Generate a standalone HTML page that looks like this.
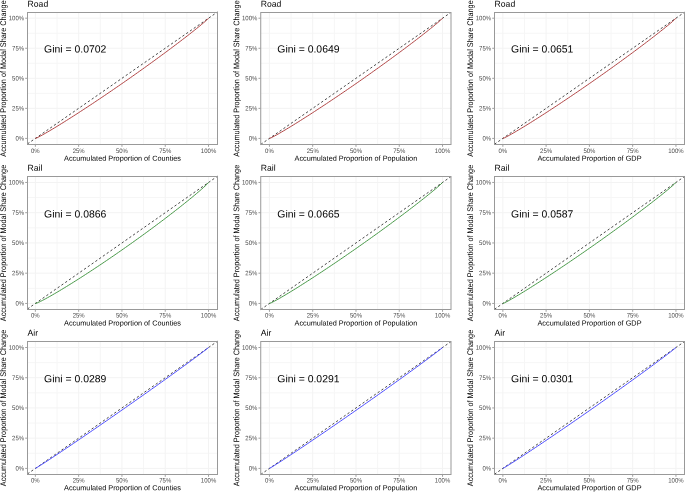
<!DOCTYPE html>
<html><head><meta charset="utf-8"><style>
html,body{margin:0;padding:0;background:#fff;overflow:hidden;}
svg{display:block;font-family:"Liberation Sans", sans-serif;will-change:transform;text-rendering:geometricPrecision;}
</style></head><body>
<svg width="685" height="492" viewBox="0 0 685 492" stroke-width="1">
<rect width="685" height="492" fill="#fff"/>
<line x1="57.02" y1="12.5" x2="57.02" y2="144.5" stroke="#f6f6f6"/>
<line x1="27.5" y1="123.38" x2="217.5" y2="123.38" stroke="#f6f6f6"/>
<line x1="100.31" y1="12.5" x2="100.31" y2="144.5" stroke="#f6f6f6"/>
<line x1="27.5" y1="93.33" x2="217.5" y2="93.33" stroke="#f6f6f6"/>
<line x1="143.6" y1="12.5" x2="143.6" y2="144.5" stroke="#f6f6f6"/>
<line x1="27.5" y1="63.28" x2="217.5" y2="63.28" stroke="#f6f6f6"/>
<line x1="186.89" y1="12.5" x2="186.89" y2="144.5" stroke="#f6f6f6"/>
<line x1="27.5" y1="33.23" x2="217.5" y2="33.23" stroke="#f6f6f6"/>
<line x1="35.37" y1="12.5" x2="35.37" y2="144.5" stroke="#f3f3f3"/>
<line x1="27.5" y1="138.4" x2="217.5" y2="138.4" stroke="#f3f3f3"/>
<line x1="78.66" y1="12.5" x2="78.66" y2="144.5" stroke="#f3f3f3"/>
<line x1="27.5" y1="108.35" x2="217.5" y2="108.35" stroke="#f3f3f3"/>
<line x1="121.95" y1="12.5" x2="121.95" y2="144.5" stroke="#f3f3f3"/>
<line x1="27.5" y1="78.3" x2="217.5" y2="78.3" stroke="#f3f3f3"/>
<line x1="165.25" y1="12.5" x2="165.25" y2="144.5" stroke="#f3f3f3"/>
<line x1="27.5" y1="48.25" x2="217.5" y2="48.25" stroke="#f3f3f3"/>
<line x1="208.54" y1="12.5" x2="208.54" y2="144.5" stroke="#f3f3f3"/>
<line x1="27.5" y1="18.2" x2="217.5" y2="18.2" stroke="#f3f3f3"/>
<line x1="27.5" y1="143.86" x2="217.5" y2="11.98" stroke="#363636" stroke-width="0.9" stroke-dasharray="2.3 2.3"/>
<polyline points="35.37,138.4 37.1,137.75 38.83,136.89 40.57,135.97 42.3,135.02 44.03,134.05 45.76,133.06 47.49,132.05 49.22,131.04 50.96,130.01 52.69,128.97 54.42,127.93 56.15,126.88 57.88,125.82 59.61,124.75 61.35,123.68 63.08,122.6 64.81,121.52 66.54,120.43 68.27,119.34 70,118.24 71.74,117.14 73.47,116.03 75.2,114.92 76.93,113.8 78.66,112.68 80.39,111.56 82.13,110.43 83.86,109.3 85.59,108.17 87.32,107.03 89.05,105.89 90.78,104.75 92.52,103.6 94.25,102.45 95.98,101.29 97.71,100.13 99.44,98.97 101.17,97.81 102.91,96.64 104.64,95.47 106.37,94.3 108.1,93.12 109.83,91.94 111.56,90.76 113.3,89.57 115.03,88.38 116.76,87.19 118.49,86 120.22,84.8 121.95,83.6 123.69,82.4 125.42,81.19 127.15,79.98 128.88,78.77 130.61,77.55 132.35,76.33 134.08,75.11 135.81,73.89 137.54,72.66 139.27,71.43 141,70.2 142.74,68.96 144.47,67.72 146.2,66.48 147.93,65.23 149.66,63.98 151.39,62.73 153.13,61.47 154.86,60.21 156.59,58.95 158.32,57.68 160.05,56.41 161.78,55.14 163.52,53.86 165.25,52.58 166.98,51.3 168.71,50.01 170.44,48.72 172.17,47.42 173.91,46.12 175.64,44.81 177.37,43.5 179.1,42.19 180.83,40.86 182.56,39.54 184.3,38.21 186.03,36.87 187.76,35.52 189.49,34.17 191.22,32.81 192.95,31.44 194.69,30.07 196.42,28.68 198.15,27.28 199.88,25.87 201.61,24.44 203.34,22.98 205.08,21.5 206.81,19.95 208.54,18.2" fill="none" stroke="#ad3c3c" stroke-width="0.95"/>
<rect x="27.5" y="12.5" width="190" height="132" fill="none" stroke="#999999"/>
<line x1="25.2" y1="138.4" x2="27.5" y2="138.4" stroke="#a0a0a0"/>
<line x1="35.37" y1="144.5" x2="35.37" y2="146.8" stroke="#a0a0a0"/>
<text transform="translate(24.1 140.55) scale(1 1.08)" rotate="0.3" font-size="6.0" fill="#4a4a4a" text-anchor="end">0%</text>
<text transform="translate(35.37 153) scale(1 1.08)" rotate="0.3" font-size="6.0" fill="#4a4a4a" text-anchor="middle">0%</text>
<line x1="25.2" y1="108.35" x2="27.5" y2="108.35" stroke="#a0a0a0"/>
<line x1="78.66" y1="144.5" x2="78.66" y2="146.8" stroke="#a0a0a0"/>
<text transform="translate(24.1 110.5) scale(1 1.08)" rotate="0.3" font-size="6.0" fill="#4a4a4a" text-anchor="end">25%</text>
<text transform="translate(78.66 153) scale(1 1.08)" rotate="0.3" font-size="6.0" fill="#4a4a4a" text-anchor="middle">25%</text>
<line x1="25.2" y1="78.3" x2="27.5" y2="78.3" stroke="#a0a0a0"/>
<line x1="121.95" y1="144.5" x2="121.95" y2="146.8" stroke="#a0a0a0"/>
<text transform="translate(24.1 80.45) scale(1 1.08)" rotate="0.3" font-size="6.0" fill="#4a4a4a" text-anchor="end">50%</text>
<text transform="translate(121.95 153) scale(1 1.08)" rotate="0.3" font-size="6.0" fill="#4a4a4a" text-anchor="middle">50%</text>
<line x1="25.2" y1="48.25" x2="27.5" y2="48.25" stroke="#a0a0a0"/>
<line x1="165.25" y1="144.5" x2="165.25" y2="146.8" stroke="#a0a0a0"/>
<text transform="translate(24.1 50.4) scale(1 1.08)" rotate="0.3" font-size="6.0" fill="#4a4a4a" text-anchor="end">75%</text>
<text transform="translate(165.25 153) scale(1 1.08)" rotate="0.3" font-size="6.0" fill="#4a4a4a" text-anchor="middle">75%</text>
<line x1="25.2" y1="18.2" x2="27.5" y2="18.2" stroke="#a0a0a0"/>
<line x1="208.54" y1="144.5" x2="208.54" y2="146.8" stroke="#a0a0a0"/>
<text transform="translate(24.1 20.35) scale(1 1.08)" rotate="0.3" font-size="6.0" fill="#4a4a4a" text-anchor="end">100%</text>
<text transform="translate(208.54 153) scale(1 1.08)" rotate="0.3" font-size="6.0" fill="#4a4a4a" text-anchor="middle">100%</text>
<text transform="translate(27.6 6.7) scale(1 1.0)" rotate="0.3" font-size="8.6" fill="#000">Road</text>
<text transform="translate(122.5 160.8) scale(1 1.0)" rotate="0.3" font-size="7.3" fill="#000" text-anchor="middle">Accumulated Proportion of Counties</text>
<text transform="translate(6.1 78.5) rotate(-90) scale(1 1.126)" rotate="0.3" font-size="7.26" fill="#000" text-anchor="middle">Accumulated Proportion of Modal Share Change</text>
<text transform="translate(44.1 52.45) scale(1 1.0)" rotate="0.3" font-size="10.4" fill="#000">Gini = 0.0702</text>
<line x1="291.07" y1="12.5" x2="291.07" y2="144.5" stroke="#f6f6f6"/>
<line x1="260.74" y1="123.38" x2="451" y2="123.38" stroke="#f6f6f6"/>
<line x1="334.35" y1="12.5" x2="334.35" y2="144.5" stroke="#f6f6f6"/>
<line x1="260.74" y1="93.33" x2="451" y2="93.33" stroke="#f6f6f6"/>
<line x1="377.62" y1="12.5" x2="377.62" y2="144.5" stroke="#f6f6f6"/>
<line x1="260.74" y1="63.28" x2="451" y2="63.28" stroke="#f6f6f6"/>
<line x1="420.9" y1="12.5" x2="420.9" y2="144.5" stroke="#f6f6f6"/>
<line x1="260.74" y1="33.23" x2="451" y2="33.23" stroke="#f6f6f6"/>
<line x1="269.43" y1="12.5" x2="269.43" y2="144.5" stroke="#f3f3f3"/>
<line x1="260.74" y1="138.4" x2="451" y2="138.4" stroke="#f3f3f3"/>
<line x1="312.71" y1="12.5" x2="312.71" y2="144.5" stroke="#f3f3f3"/>
<line x1="260.74" y1="108.35" x2="451" y2="108.35" stroke="#f3f3f3"/>
<line x1="355.99" y1="12.5" x2="355.99" y2="144.5" stroke="#f3f3f3"/>
<line x1="260.74" y1="78.3" x2="451" y2="78.3" stroke="#f3f3f3"/>
<line x1="399.26" y1="12.5" x2="399.26" y2="144.5" stroke="#f3f3f3"/>
<line x1="260.74" y1="48.25" x2="451" y2="48.25" stroke="#f3f3f3"/>
<line x1="442.54" y1="12.5" x2="442.54" y2="144.5" stroke="#f3f3f3"/>
<line x1="260.74" y1="18.2" x2="451" y2="18.2" stroke="#f3f3f3"/>
<line x1="260.74" y1="144.43" x2="451" y2="12.33" stroke="#363636" stroke-width="0.9" stroke-dasharray="2.3 2.3"/>
<polyline points="269.43,138.4 271.16,137.75 272.89,136.89 274.62,135.97 276.35,135.02 278.09,134.05 279.82,133.06 281.55,132.05 283.28,131.04 285.01,130.01 286.74,128.97 288.47,127.93 290.2,126.88 291.93,125.82 293.67,124.75 295.4,123.68 297.13,122.6 298.86,121.52 300.59,120.43 302.32,119.34 304.05,118.24 305.78,117.14 307.51,116.03 309.25,114.92 310.98,113.8 312.71,112.68 314.44,111.56 316.17,110.43 317.9,109.3 319.63,108.17 321.36,107.03 323.09,105.89 324.83,104.75 326.56,103.6 328.29,102.45 330.02,101.29 331.75,100.13 333.48,98.97 335.21,97.81 336.94,96.64 338.67,95.47 340.41,94.3 342.14,93.12 343.87,91.94 345.6,90.76 347.33,89.57 349.06,88.38 350.79,87.19 352.52,86 354.25,84.8 355.99,83.6 357.72,82.4 359.45,81.19 361.18,79.98 362.91,78.77 364.64,77.55 366.37,76.33 368.1,75.11 369.83,73.89 371.56,72.66 373.3,71.43 375.03,70.2 376.76,68.96 378.49,67.72 380.22,66.48 381.95,65.23 383.68,63.98 385.41,62.73 387.14,61.47 388.88,60.21 390.61,58.95 392.34,57.68 394.07,56.41 395.8,55.14 397.53,53.86 399.26,52.58 400.99,51.3 402.72,50.01 404.46,48.72 406.19,47.42 407.92,46.12 409.65,44.81 411.38,43.5 413.11,42.19 414.84,40.86 416.57,39.54 418.3,38.21 420.04,36.87 421.77,35.52 423.5,34.17 425.23,32.81 426.96,31.44 428.69,30.07 430.42,28.68 432.15,27.28 433.88,25.87 435.62,24.44 437.35,22.98 439.08,21.5 440.81,19.95 442.54,18.2" fill="none" stroke="#ad3c3c" stroke-width="0.95"/>
<rect x="260.74" y="12.5" width="190.26" height="132" fill="none" stroke="#999999"/>
<line x1="258.44" y1="138.4" x2="260.74" y2="138.4" stroke="#a0a0a0"/>
<line x1="269.43" y1="144.5" x2="269.43" y2="146.8" stroke="#a0a0a0"/>
<text transform="translate(257.34 140.55) scale(1 1.08)" rotate="0.3" font-size="6.0" fill="#4a4a4a" text-anchor="end">0%</text>
<text transform="translate(269.43 153) scale(1 1.08)" rotate="0.3" font-size="6.0" fill="#4a4a4a" text-anchor="middle">0%</text>
<line x1="258.44" y1="108.35" x2="260.74" y2="108.35" stroke="#a0a0a0"/>
<line x1="312.71" y1="144.5" x2="312.71" y2="146.8" stroke="#a0a0a0"/>
<text transform="translate(257.34 110.5) scale(1 1.08)" rotate="0.3" font-size="6.0" fill="#4a4a4a" text-anchor="end">25%</text>
<text transform="translate(312.71 153) scale(1 1.08)" rotate="0.3" font-size="6.0" fill="#4a4a4a" text-anchor="middle">25%</text>
<line x1="258.44" y1="78.3" x2="260.74" y2="78.3" stroke="#a0a0a0"/>
<line x1="355.99" y1="144.5" x2="355.99" y2="146.8" stroke="#a0a0a0"/>
<text transform="translate(257.34 80.45) scale(1 1.08)" rotate="0.3" font-size="6.0" fill="#4a4a4a" text-anchor="end">50%</text>
<text transform="translate(355.99 153) scale(1 1.08)" rotate="0.3" font-size="6.0" fill="#4a4a4a" text-anchor="middle">50%</text>
<line x1="258.44" y1="48.25" x2="260.74" y2="48.25" stroke="#a0a0a0"/>
<line x1="399.26" y1="144.5" x2="399.26" y2="146.8" stroke="#a0a0a0"/>
<text transform="translate(257.34 50.4) scale(1 1.08)" rotate="0.3" font-size="6.0" fill="#4a4a4a" text-anchor="end">75%</text>
<text transform="translate(399.26 153) scale(1 1.08)" rotate="0.3" font-size="6.0" fill="#4a4a4a" text-anchor="middle">75%</text>
<line x1="258.44" y1="18.2" x2="260.74" y2="18.2" stroke="#a0a0a0"/>
<line x1="442.54" y1="144.5" x2="442.54" y2="146.8" stroke="#a0a0a0"/>
<text transform="translate(257.34 20.35) scale(1 1.08)" rotate="0.3" font-size="6.0" fill="#4a4a4a" text-anchor="end">100%</text>
<text transform="translate(442.54 153) scale(1 1.08)" rotate="0.3" font-size="6.0" fill="#4a4a4a" text-anchor="middle">100%</text>
<text transform="translate(260.84 6.7) scale(1 1.0)" rotate="0.3" font-size="8.6" fill="#000">Road</text>
<text transform="translate(355.87 160.8) scale(1 1.0)" rotate="0.3" font-size="7.3" fill="#000" text-anchor="middle">Accumulated Proportion of Population</text>
<text transform="translate(239.34 78.5) rotate(-90) scale(1 1.126)" rotate="0.3" font-size="7.26" fill="#000" text-anchor="middle">Accumulated Proportion of Modal Share Change</text>
<text transform="translate(277.34 52.45) scale(1 1.0)" rotate="0.3" font-size="10.4" fill="#000">Gini = 0.0649</text>
<line x1="524.49" y1="12.5" x2="524.49" y2="144.5" stroke="#f6f6f6"/>
<line x1="494.5" y1="123.38" x2="684.5" y2="123.38" stroke="#f6f6f6"/>
<line x1="567.76" y1="12.5" x2="567.76" y2="144.5" stroke="#f6f6f6"/>
<line x1="494.5" y1="93.33" x2="684.5" y2="93.33" stroke="#f6f6f6"/>
<line x1="611.04" y1="12.5" x2="611.04" y2="144.5" stroke="#f6f6f6"/>
<line x1="494.5" y1="63.28" x2="684.5" y2="63.28" stroke="#f6f6f6"/>
<line x1="654.31" y1="12.5" x2="654.31" y2="144.5" stroke="#f6f6f6"/>
<line x1="494.5" y1="33.23" x2="684.5" y2="33.23" stroke="#f6f6f6"/>
<line x1="502.85" y1="12.5" x2="502.85" y2="144.5" stroke="#f3f3f3"/>
<line x1="494.5" y1="138.4" x2="684.5" y2="138.4" stroke="#f3f3f3"/>
<line x1="546.12" y1="12.5" x2="546.12" y2="144.5" stroke="#f3f3f3"/>
<line x1="494.5" y1="108.35" x2="684.5" y2="108.35" stroke="#f3f3f3"/>
<line x1="589.4" y1="12.5" x2="589.4" y2="144.5" stroke="#f3f3f3"/>
<line x1="494.5" y1="78.3" x2="684.5" y2="78.3" stroke="#f3f3f3"/>
<line x1="632.68" y1="12.5" x2="632.68" y2="144.5" stroke="#f3f3f3"/>
<line x1="494.5" y1="48.25" x2="684.5" y2="48.25" stroke="#f3f3f3"/>
<line x1="675.95" y1="12.5" x2="675.95" y2="144.5" stroke="#f3f3f3"/>
<line x1="494.5" y1="18.2" x2="684.5" y2="18.2" stroke="#f3f3f3"/>
<line x1="494.5" y1="144.2" x2="684.5" y2="12.26" stroke="#363636" stroke-width="0.9" stroke-dasharray="2.3 2.3"/>
<polyline points="502.85,138.4 504.58,137.75 506.31,136.89 508.04,135.97 509.77,135.02 511.5,134.05 513.24,133.06 514.97,132.05 516.7,131.04 518.43,130.01 520.16,128.97 521.89,127.93 523.62,126.88 525.35,125.82 527.08,124.75 528.82,123.68 530.55,122.6 532.28,121.52 534.01,120.43 535.74,119.34 537.47,118.24 539.2,117.14 540.93,116.03 542.66,114.92 544.39,113.8 546.12,112.68 547.86,111.56 549.59,110.43 551.32,109.3 553.05,108.17 554.78,107.03 556.51,105.89 558.24,104.75 559.97,103.6 561.7,102.45 563.44,101.29 565.17,100.13 566.9,98.97 568.63,97.81 570.36,96.64 572.09,95.47 573.82,94.3 575.55,93.12 577.28,91.94 579.01,90.76 580.75,89.57 582.48,88.38 584.21,87.19 585.94,86 587.67,84.8 589.4,83.6 591.13,82.4 592.86,81.19 594.59,79.98 596.32,78.77 598.06,77.55 599.79,76.33 601.52,75.11 603.25,73.89 604.98,72.66 606.71,71.43 608.44,70.2 610.17,68.96 611.9,67.72 613.63,66.48 615.37,65.23 617.1,63.98 618.83,62.73 620.56,61.47 622.29,60.21 624.02,58.95 625.75,57.68 627.48,56.41 629.21,55.14 630.94,53.86 632.68,52.58 634.41,51.3 636.14,50.01 637.87,48.72 639.6,47.42 641.33,46.12 643.06,44.81 644.79,43.5 646.52,42.19 648.25,40.86 649.99,39.54 651.72,38.21 653.45,36.87 655.18,35.52 656.91,34.17 658.64,32.81 660.37,31.44 662.1,30.07 663.83,28.68 665.56,27.28 667.3,25.87 669.03,24.44 670.76,22.98 672.49,21.5 674.22,19.95 675.95,18.2" fill="none" stroke="#ad3c3c" stroke-width="0.95"/>
<rect x="494.5" y="12.5" width="190" height="132" fill="none" stroke="#999999"/>
<line x1="492.2" y1="138.4" x2="494.5" y2="138.4" stroke="#a0a0a0"/>
<line x1="502.85" y1="144.5" x2="502.85" y2="146.8" stroke="#a0a0a0"/>
<text transform="translate(491.1 140.55) scale(1 1.08)" rotate="0.3" font-size="6.0" fill="#4a4a4a" text-anchor="end">0%</text>
<text transform="translate(502.85 153) scale(1 1.08)" rotate="0.3" font-size="6.0" fill="#4a4a4a" text-anchor="middle">0%</text>
<line x1="492.2" y1="108.35" x2="494.5" y2="108.35" stroke="#a0a0a0"/>
<line x1="546.12" y1="144.5" x2="546.12" y2="146.8" stroke="#a0a0a0"/>
<text transform="translate(491.1 110.5) scale(1 1.08)" rotate="0.3" font-size="6.0" fill="#4a4a4a" text-anchor="end">25%</text>
<text transform="translate(546.12 153) scale(1 1.08)" rotate="0.3" font-size="6.0" fill="#4a4a4a" text-anchor="middle">25%</text>
<line x1="492.2" y1="78.3" x2="494.5" y2="78.3" stroke="#a0a0a0"/>
<line x1="589.4" y1="144.5" x2="589.4" y2="146.8" stroke="#a0a0a0"/>
<text transform="translate(491.1 80.45) scale(1 1.08)" rotate="0.3" font-size="6.0" fill="#4a4a4a" text-anchor="end">50%</text>
<text transform="translate(589.4 153) scale(1 1.08)" rotate="0.3" font-size="6.0" fill="#4a4a4a" text-anchor="middle">50%</text>
<line x1="492.2" y1="48.25" x2="494.5" y2="48.25" stroke="#a0a0a0"/>
<line x1="632.68" y1="144.5" x2="632.68" y2="146.8" stroke="#a0a0a0"/>
<text transform="translate(491.1 50.4) scale(1 1.08)" rotate="0.3" font-size="6.0" fill="#4a4a4a" text-anchor="end">75%</text>
<text transform="translate(632.68 153) scale(1 1.08)" rotate="0.3" font-size="6.0" fill="#4a4a4a" text-anchor="middle">75%</text>
<line x1="492.2" y1="18.2" x2="494.5" y2="18.2" stroke="#a0a0a0"/>
<line x1="675.95" y1="144.5" x2="675.95" y2="146.8" stroke="#a0a0a0"/>
<text transform="translate(491.1 20.35) scale(1 1.08)" rotate="0.3" font-size="6.0" fill="#4a4a4a" text-anchor="end">100%</text>
<text transform="translate(675.95 153) scale(1 1.08)" rotate="0.3" font-size="6.0" fill="#4a4a4a" text-anchor="middle">100%</text>
<text transform="translate(494.6 6.7) scale(1 1.0)" rotate="0.3" font-size="8.6" fill="#000">Road</text>
<text transform="translate(589.5 160.8) scale(1 1.0)" rotate="0.3" font-size="7.3" fill="#000" text-anchor="middle">Accumulated Proportion of GDP</text>
<text transform="translate(473.1 78.5) rotate(-90) scale(1 1.126)" rotate="0.3" font-size="7.26" fill="#000" text-anchor="middle">Accumulated Proportion of Modal Share Change</text>
<text transform="translate(511.1 52.45) scale(1 1.0)" rotate="0.3" font-size="10.4" fill="#000">Gini = 0.0651</text>
<line x1="57.02" y1="176.5" x2="57.02" y2="309.5" stroke="#f6f6f6"/>
<line x1="27.5" y1="288.32" x2="217.5" y2="288.32" stroke="#f6f6f6"/>
<line x1="100.31" y1="176.5" x2="100.31" y2="309.5" stroke="#f6f6f6"/>
<line x1="27.5" y1="258.07" x2="217.5" y2="258.07" stroke="#f6f6f6"/>
<line x1="143.6" y1="176.5" x2="143.6" y2="309.5" stroke="#f6f6f6"/>
<line x1="27.5" y1="227.82" x2="217.5" y2="227.82" stroke="#f6f6f6"/>
<line x1="186.89" y1="176.5" x2="186.89" y2="309.5" stroke="#f6f6f6"/>
<line x1="27.5" y1="197.57" x2="217.5" y2="197.57" stroke="#f6f6f6"/>
<line x1="35.37" y1="176.5" x2="35.37" y2="309.5" stroke="#f3f3f3"/>
<line x1="27.5" y1="303.45" x2="217.5" y2="303.45" stroke="#f3f3f3"/>
<line x1="78.66" y1="176.5" x2="78.66" y2="309.5" stroke="#f3f3f3"/>
<line x1="27.5" y1="273.2" x2="217.5" y2="273.2" stroke="#f3f3f3"/>
<line x1="121.95" y1="176.5" x2="121.95" y2="309.5" stroke="#f3f3f3"/>
<line x1="27.5" y1="242.95" x2="217.5" y2="242.95" stroke="#f3f3f3"/>
<line x1="165.25" y1="176.5" x2="165.25" y2="309.5" stroke="#f3f3f3"/>
<line x1="27.5" y1="212.7" x2="217.5" y2="212.7" stroke="#f3f3f3"/>
<line x1="208.54" y1="176.5" x2="208.54" y2="309.5" stroke="#f3f3f3"/>
<line x1="27.5" y1="182.45" x2="217.5" y2="182.45" stroke="#f3f3f3"/>
<line x1="27.5" y1="308.95" x2="217.5" y2="176.19" stroke="#363636" stroke-width="0.9" stroke-dasharray="2.3 2.3"/>
<polyline points="35.37,303.45 37.1,302.97 38.83,302.21 40.57,301.37 42.3,300.5 44.03,299.59 45.76,298.66 47.49,297.71 49.22,296.74 50.96,295.77 52.69,294.77 54.42,293.77 56.15,292.76 57.88,291.74 59.61,290.71 61.35,289.67 63.08,288.62 64.81,287.57 66.54,286.51 68.27,285.44 70,284.37 71.74,283.29 73.47,282.21 75.2,281.12 76.93,280.02 78.66,278.92 80.39,277.82 82.13,276.71 83.86,275.59 85.59,274.47 87.32,273.35 89.05,272.22 90.78,271.08 92.52,269.94 94.25,268.8 95.98,267.65 97.71,266.5 99.44,265.35 101.17,264.19 102.91,263.02 104.64,261.85 106.37,260.68 108.1,259.5 109.83,258.32 111.56,257.14 113.3,255.95 115.03,254.76 116.76,253.56 118.49,252.36 120.22,251.16 121.95,249.95 123.69,248.74 125.42,247.52 127.15,246.3 128.88,245.08 130.61,243.85 132.35,242.62 134.08,241.38 135.81,240.14 137.54,238.9 139.27,237.65 141,236.4 142.74,235.15 144.47,233.89 146.2,232.62 147.93,231.35 149.66,230.08 151.39,228.8 153.13,227.52 154.86,226.24 156.59,224.95 158.32,223.65 160.05,222.35 161.78,221.05 163.52,219.74 165.25,218.42 166.98,217.1 168.71,215.78 170.44,214.45 172.17,213.11 173.91,211.77 175.64,210.42 177.37,209.07 179.1,207.71 180.83,206.34 182.56,204.97 184.3,203.59 186.03,202.2 187.76,200.8 189.49,199.39 191.22,197.97 192.95,196.55 194.69,195.1 196.42,193.65 198.15,192.18 199.88,190.69 201.61,189.18 203.34,187.63 205.08,186.05 206.81,184.39 208.54,182.45" fill="none" stroke="#3f943f" stroke-width="0.95"/>
<rect x="27.5" y="176.5" width="190" height="133" fill="none" stroke="#999999"/>
<line x1="25.2" y1="303.45" x2="27.5" y2="303.45" stroke="#a0a0a0"/>
<line x1="35.37" y1="309.5" x2="35.37" y2="311.8" stroke="#a0a0a0"/>
<text transform="translate(24.1 305.6) scale(1 1.08)" rotate="0.3" font-size="6.0" fill="#4a4a4a" text-anchor="end">0%</text>
<text transform="translate(35.37 317.6) scale(1 1.08)" rotate="0.3" font-size="6.0" fill="#4a4a4a" text-anchor="middle">0%</text>
<line x1="25.2" y1="273.2" x2="27.5" y2="273.2" stroke="#a0a0a0"/>
<line x1="78.66" y1="309.5" x2="78.66" y2="311.8" stroke="#a0a0a0"/>
<text transform="translate(24.1 275.35) scale(1 1.08)" rotate="0.3" font-size="6.0" fill="#4a4a4a" text-anchor="end">25%</text>
<text transform="translate(78.66 317.6) scale(1 1.08)" rotate="0.3" font-size="6.0" fill="#4a4a4a" text-anchor="middle">25%</text>
<line x1="25.2" y1="242.95" x2="27.5" y2="242.95" stroke="#a0a0a0"/>
<line x1="121.95" y1="309.5" x2="121.95" y2="311.8" stroke="#a0a0a0"/>
<text transform="translate(24.1 245.1) scale(1 1.08)" rotate="0.3" font-size="6.0" fill="#4a4a4a" text-anchor="end">50%</text>
<text transform="translate(121.95 317.6) scale(1 1.08)" rotate="0.3" font-size="6.0" fill="#4a4a4a" text-anchor="middle">50%</text>
<line x1="25.2" y1="212.7" x2="27.5" y2="212.7" stroke="#a0a0a0"/>
<line x1="165.25" y1="309.5" x2="165.25" y2="311.8" stroke="#a0a0a0"/>
<text transform="translate(24.1 214.85) scale(1 1.08)" rotate="0.3" font-size="6.0" fill="#4a4a4a" text-anchor="end">75%</text>
<text transform="translate(165.25 317.6) scale(1 1.08)" rotate="0.3" font-size="6.0" fill="#4a4a4a" text-anchor="middle">75%</text>
<line x1="25.2" y1="182.45" x2="27.5" y2="182.45" stroke="#a0a0a0"/>
<line x1="208.54" y1="309.5" x2="208.54" y2="311.8" stroke="#a0a0a0"/>
<text transform="translate(24.1 184.6) scale(1 1.08)" rotate="0.3" font-size="6.0" fill="#4a4a4a" text-anchor="end">100%</text>
<text transform="translate(208.54 317.6) scale(1 1.08)" rotate="0.3" font-size="6.0" fill="#4a4a4a" text-anchor="middle">100%</text>
<text transform="translate(27.6 170.7) scale(1 1.0)" rotate="0.3" font-size="8.6" fill="#000">Rail</text>
<text transform="translate(122.5 325.4) scale(1 1.0)" rotate="0.3" font-size="7.3" fill="#000" text-anchor="middle">Accumulated Proportion of Counties</text>
<text transform="translate(6.1 243) rotate(-90) scale(1 1.126)" rotate="0.3" font-size="7.26" fill="#000" text-anchor="middle">Accumulated Proportion of Modal Share Change</text>
<text transform="translate(44.1 217.4) scale(1 1.0)" rotate="0.3" font-size="10.4" fill="#000">Gini = 0.0866</text>
<line x1="291.07" y1="176.5" x2="291.07" y2="309.5" stroke="#f6f6f6"/>
<line x1="260.74" y1="288.32" x2="451" y2="288.32" stroke="#f6f6f6"/>
<line x1="334.35" y1="176.5" x2="334.35" y2="309.5" stroke="#f6f6f6"/>
<line x1="260.74" y1="258.07" x2="451" y2="258.07" stroke="#f6f6f6"/>
<line x1="377.62" y1="176.5" x2="377.62" y2="309.5" stroke="#f6f6f6"/>
<line x1="260.74" y1="227.82" x2="451" y2="227.82" stroke="#f6f6f6"/>
<line x1="420.9" y1="176.5" x2="420.9" y2="309.5" stroke="#f6f6f6"/>
<line x1="260.74" y1="197.57" x2="451" y2="197.57" stroke="#f6f6f6"/>
<line x1="269.43" y1="176.5" x2="269.43" y2="309.5" stroke="#f3f3f3"/>
<line x1="260.74" y1="303.45" x2="451" y2="303.45" stroke="#f3f3f3"/>
<line x1="312.71" y1="176.5" x2="312.71" y2="309.5" stroke="#f3f3f3"/>
<line x1="260.74" y1="273.2" x2="451" y2="273.2" stroke="#f3f3f3"/>
<line x1="355.99" y1="176.5" x2="355.99" y2="309.5" stroke="#f3f3f3"/>
<line x1="260.74" y1="242.95" x2="451" y2="242.95" stroke="#f3f3f3"/>
<line x1="399.26" y1="176.5" x2="399.26" y2="309.5" stroke="#f3f3f3"/>
<line x1="260.74" y1="212.7" x2="451" y2="212.7" stroke="#f3f3f3"/>
<line x1="442.54" y1="176.5" x2="442.54" y2="309.5" stroke="#f3f3f3"/>
<line x1="260.74" y1="182.45" x2="451" y2="182.45" stroke="#f3f3f3"/>
<line x1="260.74" y1="309.52" x2="451" y2="176.54" stroke="#363636" stroke-width="0.9" stroke-dasharray="2.3 2.3"/>
<polyline points="269.43,303.45 271.16,302.82 272.89,301.97 274.62,301.06 276.35,300.12 278.09,299.15 279.82,298.16 281.55,297.16 283.28,296.15 285.01,295.12 286.74,294.09 288.47,293.05 290.2,291.99 291.93,290.93 293.67,289.87 295.4,288.8 297.13,287.72 298.86,286.63 300.59,285.54 302.32,284.45 304.05,283.35 305.78,282.24 307.51,281.13 309.25,280.02 310.98,278.9 312.71,277.78 314.44,276.65 316.17,275.52 317.9,274.39 319.63,273.25 321.36,272.11 323.09,270.96 324.83,269.81 326.56,268.66 328.29,267.5 330.02,266.34 331.75,265.18 333.48,264.01 335.21,262.84 336.94,261.67 338.67,260.49 340.41,259.31 342.14,258.13 343.87,256.94 345.6,255.75 347.33,254.56 349.06,253.36 350.79,252.17 352.52,250.96 354.25,249.76 355.99,248.55 357.72,247.34 359.45,246.12 361.18,244.91 362.91,243.68 364.64,242.46 366.37,241.23 368.1,240 369.83,238.77 371.56,237.53 373.3,236.29 375.03,235.05 376.76,233.8 378.49,232.55 380.22,231.3 381.95,230.04 383.68,228.78 385.41,227.52 387.14,226.25 388.88,224.98 390.61,223.71 392.34,222.43 394.07,221.15 395.8,219.86 397.53,218.57 399.26,217.28 400.99,215.98 402.72,214.68 404.46,213.37 406.19,212.06 407.92,210.75 409.65,209.43 411.38,208.1 413.11,206.77 414.84,205.44 416.57,204.1 418.3,202.75 420.04,201.39 421.77,200.03 423.5,198.67 425.23,197.29 426.96,195.9 428.69,194.51 430.42,193.1 432.15,191.68 433.88,190.25 435.62,188.8 437.35,187.32 439.08,185.81 440.81,184.24 442.54,182.45" fill="none" stroke="#3f943f" stroke-width="0.95"/>
<rect x="260.74" y="176.5" width="190.26" height="133" fill="none" stroke="#999999"/>
<line x1="258.44" y1="303.45" x2="260.74" y2="303.45" stroke="#a0a0a0"/>
<line x1="269.43" y1="309.5" x2="269.43" y2="311.8" stroke="#a0a0a0"/>
<text transform="translate(257.34 305.6) scale(1 1.08)" rotate="0.3" font-size="6.0" fill="#4a4a4a" text-anchor="end">0%</text>
<text transform="translate(269.43 317.6) scale(1 1.08)" rotate="0.3" font-size="6.0" fill="#4a4a4a" text-anchor="middle">0%</text>
<line x1="258.44" y1="273.2" x2="260.74" y2="273.2" stroke="#a0a0a0"/>
<line x1="312.71" y1="309.5" x2="312.71" y2="311.8" stroke="#a0a0a0"/>
<text transform="translate(257.34 275.35) scale(1 1.08)" rotate="0.3" font-size="6.0" fill="#4a4a4a" text-anchor="end">25%</text>
<text transform="translate(312.71 317.6) scale(1 1.08)" rotate="0.3" font-size="6.0" fill="#4a4a4a" text-anchor="middle">25%</text>
<line x1="258.44" y1="242.95" x2="260.74" y2="242.95" stroke="#a0a0a0"/>
<line x1="355.99" y1="309.5" x2="355.99" y2="311.8" stroke="#a0a0a0"/>
<text transform="translate(257.34 245.1) scale(1 1.08)" rotate="0.3" font-size="6.0" fill="#4a4a4a" text-anchor="end">50%</text>
<text transform="translate(355.99 317.6) scale(1 1.08)" rotate="0.3" font-size="6.0" fill="#4a4a4a" text-anchor="middle">50%</text>
<line x1="258.44" y1="212.7" x2="260.74" y2="212.7" stroke="#a0a0a0"/>
<line x1="399.26" y1="309.5" x2="399.26" y2="311.8" stroke="#a0a0a0"/>
<text transform="translate(257.34 214.85) scale(1 1.08)" rotate="0.3" font-size="6.0" fill="#4a4a4a" text-anchor="end">75%</text>
<text transform="translate(399.26 317.6) scale(1 1.08)" rotate="0.3" font-size="6.0" fill="#4a4a4a" text-anchor="middle">75%</text>
<line x1="258.44" y1="182.45" x2="260.74" y2="182.45" stroke="#a0a0a0"/>
<line x1="442.54" y1="309.5" x2="442.54" y2="311.8" stroke="#a0a0a0"/>
<text transform="translate(257.34 184.6) scale(1 1.08)" rotate="0.3" font-size="6.0" fill="#4a4a4a" text-anchor="end">100%</text>
<text transform="translate(442.54 317.6) scale(1 1.08)" rotate="0.3" font-size="6.0" fill="#4a4a4a" text-anchor="middle">100%</text>
<text transform="translate(260.84 170.7) scale(1 1.0)" rotate="0.3" font-size="8.6" fill="#000">Rail</text>
<text transform="translate(355.87 325.4) scale(1 1.0)" rotate="0.3" font-size="7.3" fill="#000" text-anchor="middle">Accumulated Proportion of Population</text>
<text transform="translate(239.34 243) rotate(-90) scale(1 1.126)" rotate="0.3" font-size="7.26" fill="#000" text-anchor="middle">Accumulated Proportion of Modal Share Change</text>
<text transform="translate(277.34 217.4) scale(1 1.0)" rotate="0.3" font-size="10.4" fill="#000">Gini = 0.0665</text>
<line x1="524.49" y1="176.5" x2="524.49" y2="309.5" stroke="#f6f6f6"/>
<line x1="494.5" y1="288.32" x2="684.5" y2="288.32" stroke="#f6f6f6"/>
<line x1="567.76" y1="176.5" x2="567.76" y2="309.5" stroke="#f6f6f6"/>
<line x1="494.5" y1="258.07" x2="684.5" y2="258.07" stroke="#f6f6f6"/>
<line x1="611.04" y1="176.5" x2="611.04" y2="309.5" stroke="#f6f6f6"/>
<line x1="494.5" y1="227.82" x2="684.5" y2="227.82" stroke="#f6f6f6"/>
<line x1="654.31" y1="176.5" x2="654.31" y2="309.5" stroke="#f6f6f6"/>
<line x1="494.5" y1="197.57" x2="684.5" y2="197.57" stroke="#f6f6f6"/>
<line x1="502.85" y1="176.5" x2="502.85" y2="309.5" stroke="#f3f3f3"/>
<line x1="494.5" y1="303.45" x2="684.5" y2="303.45" stroke="#f3f3f3"/>
<line x1="546.12" y1="176.5" x2="546.12" y2="309.5" stroke="#f3f3f3"/>
<line x1="494.5" y1="273.2" x2="684.5" y2="273.2" stroke="#f3f3f3"/>
<line x1="589.4" y1="176.5" x2="589.4" y2="309.5" stroke="#f3f3f3"/>
<line x1="494.5" y1="242.95" x2="684.5" y2="242.95" stroke="#f3f3f3"/>
<line x1="632.68" y1="176.5" x2="632.68" y2="309.5" stroke="#f3f3f3"/>
<line x1="494.5" y1="212.7" x2="684.5" y2="212.7" stroke="#f3f3f3"/>
<line x1="675.95" y1="176.5" x2="675.95" y2="309.5" stroke="#f3f3f3"/>
<line x1="494.5" y1="182.45" x2="684.5" y2="182.45" stroke="#f3f3f3"/>
<line x1="494.5" y1="309.29" x2="684.5" y2="176.47" stroke="#363636" stroke-width="0.9" stroke-dasharray="2.3 2.3"/>
<polyline points="502.85,303.45 504.58,302.79 506.31,301.92 508.04,301 509.77,300.04 511.5,299.06 513.24,298.06 514.97,297.05 516.7,296.02 518.43,294.99 520.16,293.94 521.89,292.89 523.62,291.83 525.35,290.76 527.08,289.69 528.82,288.61 530.55,287.52 532.28,286.43 534.01,285.34 535.74,284.23 537.47,283.13 539.2,282.02 540.93,280.9 542.66,279.78 544.39,278.66 546.12,277.53 547.86,276.4 549.59,275.27 551.32,274.13 553.05,272.99 554.78,271.84 556.51,270.69 558.24,269.54 559.97,268.38 561.7,267.22 563.44,266.06 565.17,264.9 566.9,263.73 568.63,262.55 570.36,261.38 572.09,260.2 573.82,259.02 575.55,257.83 577.28,256.65 579.01,255.46 580.75,254.26 582.48,253.07 584.21,251.87 585.94,250.66 587.67,249.46 589.4,248.25 591.13,247.04 592.86,245.82 594.59,244.61 596.32,243.39 598.06,242.16 599.79,240.94 601.52,239.71 603.25,238.47 604.98,237.24 606.71,236 608.44,234.76 610.17,233.51 611.9,232.27 613.63,231.02 615.37,229.76 617.1,228.5 618.83,227.24 620.56,225.98 622.29,224.71 624.02,223.44 625.75,222.17 627.48,220.89 629.21,219.61 630.94,218.32 632.68,217.03 634.41,215.74 636.14,214.44 637.87,213.14 639.6,211.84 641.33,210.53 643.06,209.21 644.79,207.9 646.52,206.57 648.25,205.24 649.99,203.91 651.72,202.57 653.45,201.22 655.18,199.87 656.91,198.51 658.64,197.14 660.37,195.77 662.1,194.38 663.83,192.99 665.56,191.58 667.3,190.16 669.03,188.72 670.76,187.26 672.49,185.76 674.22,184.21 675.95,182.45" fill="none" stroke="#3f943f" stroke-width="0.95"/>
<rect x="494.5" y="176.5" width="190" height="133" fill="none" stroke="#999999"/>
<line x1="492.2" y1="303.45" x2="494.5" y2="303.45" stroke="#a0a0a0"/>
<line x1="502.85" y1="309.5" x2="502.85" y2="311.8" stroke="#a0a0a0"/>
<text transform="translate(491.1 305.6) scale(1 1.08)" rotate="0.3" font-size="6.0" fill="#4a4a4a" text-anchor="end">0%</text>
<text transform="translate(502.85 317.6) scale(1 1.08)" rotate="0.3" font-size="6.0" fill="#4a4a4a" text-anchor="middle">0%</text>
<line x1="492.2" y1="273.2" x2="494.5" y2="273.2" stroke="#a0a0a0"/>
<line x1="546.12" y1="309.5" x2="546.12" y2="311.8" stroke="#a0a0a0"/>
<text transform="translate(491.1 275.35) scale(1 1.08)" rotate="0.3" font-size="6.0" fill="#4a4a4a" text-anchor="end">25%</text>
<text transform="translate(546.12 317.6) scale(1 1.08)" rotate="0.3" font-size="6.0" fill="#4a4a4a" text-anchor="middle">25%</text>
<line x1="492.2" y1="242.95" x2="494.5" y2="242.95" stroke="#a0a0a0"/>
<line x1="589.4" y1="309.5" x2="589.4" y2="311.8" stroke="#a0a0a0"/>
<text transform="translate(491.1 245.1) scale(1 1.08)" rotate="0.3" font-size="6.0" fill="#4a4a4a" text-anchor="end">50%</text>
<text transform="translate(589.4 317.6) scale(1 1.08)" rotate="0.3" font-size="6.0" fill="#4a4a4a" text-anchor="middle">50%</text>
<line x1="492.2" y1="212.7" x2="494.5" y2="212.7" stroke="#a0a0a0"/>
<line x1="632.68" y1="309.5" x2="632.68" y2="311.8" stroke="#a0a0a0"/>
<text transform="translate(491.1 214.85) scale(1 1.08)" rotate="0.3" font-size="6.0" fill="#4a4a4a" text-anchor="end">75%</text>
<text transform="translate(632.68 317.6) scale(1 1.08)" rotate="0.3" font-size="6.0" fill="#4a4a4a" text-anchor="middle">75%</text>
<line x1="492.2" y1="182.45" x2="494.5" y2="182.45" stroke="#a0a0a0"/>
<line x1="675.95" y1="309.5" x2="675.95" y2="311.8" stroke="#a0a0a0"/>
<text transform="translate(491.1 184.6) scale(1 1.08)" rotate="0.3" font-size="6.0" fill="#4a4a4a" text-anchor="end">100%</text>
<text transform="translate(675.95 317.6) scale(1 1.08)" rotate="0.3" font-size="6.0" fill="#4a4a4a" text-anchor="middle">100%</text>
<text transform="translate(494.6 170.7) scale(1 1.0)" rotate="0.3" font-size="8.6" fill="#000">Rail</text>
<text transform="translate(589.5 325.4) scale(1 1.0)" rotate="0.3" font-size="7.3" fill="#000" text-anchor="middle">Accumulated Proportion of GDP</text>
<text transform="translate(473.1 243) rotate(-90) scale(1 1.126)" rotate="0.3" font-size="7.26" fill="#000" text-anchor="middle">Accumulated Proportion of Modal Share Change</text>
<text transform="translate(511.1 217.4) scale(1 1.0)" rotate="0.3" font-size="10.4" fill="#000">Gini = 0.0587</text>
<line x1="57.02" y1="341.5" x2="57.02" y2="474.5" stroke="#f6f6f6"/>
<line x1="27.5" y1="453.29" x2="217.5" y2="453.29" stroke="#f6f6f6"/>
<line x1="100.31" y1="341.5" x2="100.31" y2="474.5" stroke="#f6f6f6"/>
<line x1="27.5" y1="423.06" x2="217.5" y2="423.06" stroke="#f6f6f6"/>
<line x1="143.6" y1="341.5" x2="143.6" y2="474.5" stroke="#f6f6f6"/>
<line x1="27.5" y1="392.84" x2="217.5" y2="392.84" stroke="#f6f6f6"/>
<line x1="186.89" y1="341.5" x2="186.89" y2="474.5" stroke="#f6f6f6"/>
<line x1="27.5" y1="362.61" x2="217.5" y2="362.61" stroke="#f6f6f6"/>
<line x1="35.37" y1="341.5" x2="35.37" y2="474.5" stroke="#f3f3f3"/>
<line x1="27.5" y1="468.4" x2="217.5" y2="468.4" stroke="#f3f3f3"/>
<line x1="78.66" y1="341.5" x2="78.66" y2="474.5" stroke="#f3f3f3"/>
<line x1="27.5" y1="438.17" x2="217.5" y2="438.17" stroke="#f3f3f3"/>
<line x1="121.95" y1="341.5" x2="121.95" y2="474.5" stroke="#f3f3f3"/>
<line x1="27.5" y1="407.95" x2="217.5" y2="407.95" stroke="#f3f3f3"/>
<line x1="165.25" y1="341.5" x2="165.25" y2="474.5" stroke="#f3f3f3"/>
<line x1="27.5" y1="377.73" x2="217.5" y2="377.73" stroke="#f3f3f3"/>
<line x1="208.54" y1="341.5" x2="208.54" y2="474.5" stroke="#f3f3f3"/>
<line x1="27.5" y1="347.5" x2="217.5" y2="347.5" stroke="#f3f3f3"/>
<line x1="27.5" y1="473.89" x2="217.5" y2="341.24" stroke="#363636" stroke-width="0.9" stroke-dasharray="2.3 2.3"/>
<polyline points="35.37,468.4 37.1,467.41 38.83,466.34 40.57,465.24 42.3,464.13 44.03,463.01 45.76,461.89 47.49,460.76 49.22,459.62 50.96,458.48 52.69,457.34 54.42,456.19 56.15,455.04 57.88,453.89 59.61,452.73 61.35,451.58 63.08,450.42 64.81,449.25 66.54,448.09 68.27,446.92 70,445.76 71.74,444.59 73.47,443.42 75.2,442.24 76.93,441.07 78.66,439.89 80.39,438.71 82.13,437.54 83.86,436.35 85.59,435.17 87.32,433.99 89.05,432.8 90.78,431.62 92.52,430.43 94.25,429.24 95.98,428.05 97.71,426.86 99.44,425.67 101.17,424.47 102.91,423.28 104.64,422.08 106.37,420.88 108.1,419.68 109.83,418.48 111.56,417.28 113.3,416.08 115.03,414.88 116.76,413.67 118.49,412.47 120.22,411.26 121.95,410.05 123.69,408.84 125.42,407.63 127.15,406.42 128.88,405.2 130.61,403.99 132.35,402.77 134.08,401.56 135.81,400.34 137.54,399.12 139.27,397.9 141,396.68 142.74,395.46 144.47,394.23 146.2,393.01 147.93,391.78 149.66,390.55 151.39,389.32 153.13,388.09 154.86,386.86 156.59,385.63 158.32,384.39 160.05,383.16 161.78,381.92 163.52,380.68 165.25,379.44 166.98,378.2 168.71,376.96 170.44,375.71 172.17,374.46 173.91,373.22 175.64,371.97 177.37,370.71 179.1,369.46 180.83,368.2 182.56,366.95 184.3,365.69 186.03,364.42 187.76,363.16 189.49,361.89 191.22,360.62 192.95,359.34 194.69,358.06 196.42,356.78 198.15,355.49 199.88,354.2 201.61,352.9 203.34,351.59 205.08,350.27 206.81,348.93 208.54,347.5" fill="none" stroke="#4a4aff" stroke-width="1.0"/>
<rect x="27.5" y="341.5" width="190" height="133" fill="none" stroke="#999999"/>
<line x1="25.2" y1="468.4" x2="27.5" y2="468.4" stroke="#a0a0a0"/>
<line x1="35.37" y1="474.5" x2="35.37" y2="476.8" stroke="#a0a0a0"/>
<text transform="translate(24.1 470.55) scale(1 1.08)" rotate="0.3" font-size="6.0" fill="#4a4a4a" text-anchor="end">0%</text>
<text transform="translate(35.37 482.5) scale(1 1.08)" rotate="0.3" font-size="6.0" fill="#4a4a4a" text-anchor="middle">0%</text>
<line x1="25.2" y1="438.17" x2="27.5" y2="438.17" stroke="#a0a0a0"/>
<line x1="78.66" y1="474.5" x2="78.66" y2="476.8" stroke="#a0a0a0"/>
<text transform="translate(24.1 440.32) scale(1 1.08)" rotate="0.3" font-size="6.0" fill="#4a4a4a" text-anchor="end">25%</text>
<text transform="translate(78.66 482.5) scale(1 1.08)" rotate="0.3" font-size="6.0" fill="#4a4a4a" text-anchor="middle">25%</text>
<line x1="25.2" y1="407.95" x2="27.5" y2="407.95" stroke="#a0a0a0"/>
<line x1="121.95" y1="474.5" x2="121.95" y2="476.8" stroke="#a0a0a0"/>
<text transform="translate(24.1 410.1) scale(1 1.08)" rotate="0.3" font-size="6.0" fill="#4a4a4a" text-anchor="end">50%</text>
<text transform="translate(121.95 482.5) scale(1 1.08)" rotate="0.3" font-size="6.0" fill="#4a4a4a" text-anchor="middle">50%</text>
<line x1="25.2" y1="377.73" x2="27.5" y2="377.73" stroke="#a0a0a0"/>
<line x1="165.25" y1="474.5" x2="165.25" y2="476.8" stroke="#a0a0a0"/>
<text transform="translate(24.1 379.88) scale(1 1.08)" rotate="0.3" font-size="6.0" fill="#4a4a4a" text-anchor="end">75%</text>
<text transform="translate(165.25 482.5) scale(1 1.08)" rotate="0.3" font-size="6.0" fill="#4a4a4a" text-anchor="middle">75%</text>
<line x1="25.2" y1="347.5" x2="27.5" y2="347.5" stroke="#a0a0a0"/>
<line x1="208.54" y1="474.5" x2="208.54" y2="476.8" stroke="#a0a0a0"/>
<text transform="translate(24.1 349.65) scale(1 1.08)" rotate="0.3" font-size="6.0" fill="#4a4a4a" text-anchor="end">100%</text>
<text transform="translate(208.54 482.5) scale(1 1.08)" rotate="0.3" font-size="6.0" fill="#4a4a4a" text-anchor="middle">100%</text>
<text transform="translate(27.6 335.7) scale(1 1.0)" rotate="0.3" font-size="8.6" fill="#000">Air</text>
<text transform="translate(122.5 490.3) scale(1 1.0)" rotate="0.3" font-size="7.3" fill="#000" text-anchor="middle">Accumulated Proportion of Counties</text>
<text transform="translate(6.1 408) rotate(-90) scale(1 1.126)" rotate="0.3" font-size="7.26" fill="#000" text-anchor="middle">Accumulated Proportion of Modal Share Change</text>
<text transform="translate(44.1 382.23) scale(1 1.0)" rotate="0.3" font-size="10.4" fill="#000">Gini = 0.0289</text>
<line x1="291.07" y1="341.5" x2="291.07" y2="474.5" stroke="#f6f6f6"/>
<line x1="260.74" y1="453.29" x2="451" y2="453.29" stroke="#f6f6f6"/>
<line x1="334.35" y1="341.5" x2="334.35" y2="474.5" stroke="#f6f6f6"/>
<line x1="260.74" y1="423.06" x2="451" y2="423.06" stroke="#f6f6f6"/>
<line x1="377.62" y1="341.5" x2="377.62" y2="474.5" stroke="#f6f6f6"/>
<line x1="260.74" y1="392.84" x2="451" y2="392.84" stroke="#f6f6f6"/>
<line x1="420.9" y1="341.5" x2="420.9" y2="474.5" stroke="#f6f6f6"/>
<line x1="260.74" y1="362.61" x2="451" y2="362.61" stroke="#f6f6f6"/>
<line x1="269.43" y1="341.5" x2="269.43" y2="474.5" stroke="#f3f3f3"/>
<line x1="260.74" y1="468.4" x2="451" y2="468.4" stroke="#f3f3f3"/>
<line x1="312.71" y1="341.5" x2="312.71" y2="474.5" stroke="#f3f3f3"/>
<line x1="260.74" y1="438.17" x2="451" y2="438.17" stroke="#f3f3f3"/>
<line x1="355.99" y1="341.5" x2="355.99" y2="474.5" stroke="#f3f3f3"/>
<line x1="260.74" y1="407.95" x2="451" y2="407.95" stroke="#f3f3f3"/>
<line x1="399.26" y1="341.5" x2="399.26" y2="474.5" stroke="#f3f3f3"/>
<line x1="260.74" y1="377.73" x2="451" y2="377.73" stroke="#f3f3f3"/>
<line x1="442.54" y1="341.5" x2="442.54" y2="474.5" stroke="#f3f3f3"/>
<line x1="260.74" y1="347.5" x2="451" y2="347.5" stroke="#f3f3f3"/>
<line x1="260.74" y1="474.47" x2="451" y2="341.59" stroke="#363636" stroke-width="0.9" stroke-dasharray="2.3 2.3"/>
<polyline points="269.43,468.4 271.16,467.44 272.89,466.39 274.62,465.31 276.35,464.21 278.09,463.11 279.82,461.99 281.55,460.87 283.28,459.75 285.01,458.62 286.74,457.48 288.47,456.35 290.2,455.2 291.93,454.06 293.67,452.91 295.4,451.76 297.13,450.61 298.86,449.46 300.59,448.3 302.32,447.14 304.05,445.98 305.78,444.81 307.51,443.65 309.25,442.48 310.98,441.31 312.71,440.14 314.44,438.96 316.17,437.79 317.9,436.61 319.63,435.43 321.36,434.25 323.09,433.07 324.83,431.89 326.56,430.71 328.29,429.52 330.02,428.33 331.75,427.14 333.48,425.95 335.21,424.76 336.94,423.57 338.67,422.37 340.41,421.18 342.14,419.98 343.87,418.78 345.6,417.58 347.33,416.38 349.06,415.18 350.79,413.97 352.52,412.77 354.25,411.56 355.99,410.35 357.72,409.14 359.45,407.93 361.18,406.72 362.91,405.5 364.64,404.29 366.37,403.07 368.1,401.85 369.83,400.63 371.56,399.41 373.3,398.19 375.03,396.97 376.76,395.74 378.49,394.52 380.22,393.29 381.95,392.06 383.68,390.83 385.41,389.6 387.14,388.37 388.88,387.13 390.61,385.89 392.34,384.66 394.07,383.42 395.8,382.18 397.53,380.93 399.26,379.69 400.99,378.44 402.72,377.19 404.46,375.94 406.19,374.69 407.92,373.44 409.65,372.18 411.38,370.92 413.11,369.66 414.84,368.4 416.57,367.13 418.3,365.87 420.04,364.59 421.77,363.32 423.5,362.04 425.23,360.76 426.96,359.48 428.69,358.19 430.42,356.9 432.15,355.6 433.88,354.3 435.62,352.98 437.35,351.66 439.08,350.32 440.81,348.96 442.54,347.5" fill="none" stroke="#4a4aff" stroke-width="1.0"/>
<rect x="260.74" y="341.5" width="190.26" height="133" fill="none" stroke="#999999"/>
<line x1="258.44" y1="468.4" x2="260.74" y2="468.4" stroke="#a0a0a0"/>
<line x1="269.43" y1="474.5" x2="269.43" y2="476.8" stroke="#a0a0a0"/>
<text transform="translate(257.34 470.55) scale(1 1.08)" rotate="0.3" font-size="6.0" fill="#4a4a4a" text-anchor="end">0%</text>
<text transform="translate(269.43 482.5) scale(1 1.08)" rotate="0.3" font-size="6.0" fill="#4a4a4a" text-anchor="middle">0%</text>
<line x1="258.44" y1="438.17" x2="260.74" y2="438.17" stroke="#a0a0a0"/>
<line x1="312.71" y1="474.5" x2="312.71" y2="476.8" stroke="#a0a0a0"/>
<text transform="translate(257.34 440.32) scale(1 1.08)" rotate="0.3" font-size="6.0" fill="#4a4a4a" text-anchor="end">25%</text>
<text transform="translate(312.71 482.5) scale(1 1.08)" rotate="0.3" font-size="6.0" fill="#4a4a4a" text-anchor="middle">25%</text>
<line x1="258.44" y1="407.95" x2="260.74" y2="407.95" stroke="#a0a0a0"/>
<line x1="355.99" y1="474.5" x2="355.99" y2="476.8" stroke="#a0a0a0"/>
<text transform="translate(257.34 410.1) scale(1 1.08)" rotate="0.3" font-size="6.0" fill="#4a4a4a" text-anchor="end">50%</text>
<text transform="translate(355.99 482.5) scale(1 1.08)" rotate="0.3" font-size="6.0" fill="#4a4a4a" text-anchor="middle">50%</text>
<line x1="258.44" y1="377.73" x2="260.74" y2="377.73" stroke="#a0a0a0"/>
<line x1="399.26" y1="474.5" x2="399.26" y2="476.8" stroke="#a0a0a0"/>
<text transform="translate(257.34 379.88) scale(1 1.08)" rotate="0.3" font-size="6.0" fill="#4a4a4a" text-anchor="end">75%</text>
<text transform="translate(399.26 482.5) scale(1 1.08)" rotate="0.3" font-size="6.0" fill="#4a4a4a" text-anchor="middle">75%</text>
<line x1="258.44" y1="347.5" x2="260.74" y2="347.5" stroke="#a0a0a0"/>
<line x1="442.54" y1="474.5" x2="442.54" y2="476.8" stroke="#a0a0a0"/>
<text transform="translate(257.34 349.65) scale(1 1.08)" rotate="0.3" font-size="6.0" fill="#4a4a4a" text-anchor="end">100%</text>
<text transform="translate(442.54 482.5) scale(1 1.08)" rotate="0.3" font-size="6.0" fill="#4a4a4a" text-anchor="middle">100%</text>
<text transform="translate(260.84 335.7) scale(1 1.0)" rotate="0.3" font-size="8.6" fill="#000">Air</text>
<text transform="translate(355.87 490.3) scale(1 1.0)" rotate="0.3" font-size="7.3" fill="#000" text-anchor="middle">Accumulated Proportion of Population</text>
<text transform="translate(239.34 408) rotate(-90) scale(1 1.126)" rotate="0.3" font-size="7.26" fill="#000" text-anchor="middle">Accumulated Proportion of Modal Share Change</text>
<text transform="translate(277.34 382.23) scale(1 1.0)" rotate="0.3" font-size="10.4" fill="#000">Gini = 0.0291</text>
<line x1="524.49" y1="341.5" x2="524.49" y2="474.5" stroke="#f6f6f6"/>
<line x1="494.5" y1="453.29" x2="684.5" y2="453.29" stroke="#f6f6f6"/>
<line x1="567.76" y1="341.5" x2="567.76" y2="474.5" stroke="#f6f6f6"/>
<line x1="494.5" y1="423.06" x2="684.5" y2="423.06" stroke="#f6f6f6"/>
<line x1="611.04" y1="341.5" x2="611.04" y2="474.5" stroke="#f6f6f6"/>
<line x1="494.5" y1="392.84" x2="684.5" y2="392.84" stroke="#f6f6f6"/>
<line x1="654.31" y1="341.5" x2="654.31" y2="474.5" stroke="#f6f6f6"/>
<line x1="494.5" y1="362.61" x2="684.5" y2="362.61" stroke="#f6f6f6"/>
<line x1="502.85" y1="341.5" x2="502.85" y2="474.5" stroke="#f3f3f3"/>
<line x1="494.5" y1="468.4" x2="684.5" y2="468.4" stroke="#f3f3f3"/>
<line x1="546.12" y1="341.5" x2="546.12" y2="474.5" stroke="#f3f3f3"/>
<line x1="494.5" y1="438.17" x2="684.5" y2="438.17" stroke="#f3f3f3"/>
<line x1="589.4" y1="341.5" x2="589.4" y2="474.5" stroke="#f3f3f3"/>
<line x1="494.5" y1="407.95" x2="684.5" y2="407.95" stroke="#f3f3f3"/>
<line x1="632.68" y1="341.5" x2="632.68" y2="474.5" stroke="#f3f3f3"/>
<line x1="494.5" y1="377.73" x2="684.5" y2="377.73" stroke="#f3f3f3"/>
<line x1="675.95" y1="341.5" x2="675.95" y2="474.5" stroke="#f3f3f3"/>
<line x1="494.5" y1="347.5" x2="684.5" y2="347.5" stroke="#f3f3f3"/>
<line x1="494.5" y1="474.23" x2="684.5" y2="341.53" stroke="#363636" stroke-width="0.9" stroke-dasharray="2.3 2.3"/>
<polyline points="502.85,468.4 504.58,467.47 506.31,466.44 508.04,465.37 509.77,464.29 511.5,463.2 513.24,462.1 514.97,460.99 516.7,459.88 518.43,458.76 520.16,457.63 521.89,456.5 523.62,455.37 525.35,454.23 527.08,453.09 528.82,451.95 530.55,450.8 532.28,449.66 534.01,448.51 535.74,447.35 537.47,446.2 539.2,445.04 540.93,443.88 542.66,442.71 544.39,441.55 546.12,440.38 547.86,439.21 549.59,438.04 551.32,436.87 553.05,435.7 554.78,434.52 556.51,433.34 558.24,432.16 559.97,430.98 561.7,429.8 563.44,428.61 565.17,427.43 566.9,426.24 568.63,425.05 570.36,423.86 572.09,422.66 573.82,421.47 575.55,420.27 577.28,419.08 579.01,417.88 580.75,416.68 582.48,415.47 584.21,414.27 585.94,413.06 587.67,411.86 589.4,410.65 591.13,409.44 592.86,408.23 594.59,407.02 596.32,405.8 598.06,404.59 599.79,403.37 601.52,402.15 603.25,400.93 604.98,399.71 606.71,398.48 608.44,397.26 610.17,396.03 611.9,394.8 613.63,393.57 615.37,392.34 617.1,391.11 618.83,389.87 620.56,388.64 622.29,387.4 624.02,386.16 625.75,384.92 627.48,383.67 629.21,382.43 630.94,381.18 632.68,379.93 634.41,378.68 636.14,377.43 637.87,376.17 639.6,374.92 641.33,373.66 643.06,372.39 644.79,371.13 646.52,369.86 648.25,368.59 649.99,367.32 651.72,366.04 653.45,364.77 655.18,363.48 656.91,362.2 658.64,360.91 660.37,359.62 662.1,358.32 663.83,357.02 665.56,355.71 667.3,354.39 669.03,353.06 670.76,351.73 672.49,350.37 674.22,348.99 675.95,347.5" fill="none" stroke="#4a4aff" stroke-width="1.0"/>
<rect x="494.5" y="341.5" width="190" height="133" fill="none" stroke="#999999"/>
<line x1="492.2" y1="468.4" x2="494.5" y2="468.4" stroke="#a0a0a0"/>
<line x1="502.85" y1="474.5" x2="502.85" y2="476.8" stroke="#a0a0a0"/>
<text transform="translate(491.1 470.55) scale(1 1.08)" rotate="0.3" font-size="6.0" fill="#4a4a4a" text-anchor="end">0%</text>
<text transform="translate(502.85 482.5) scale(1 1.08)" rotate="0.3" font-size="6.0" fill="#4a4a4a" text-anchor="middle">0%</text>
<line x1="492.2" y1="438.17" x2="494.5" y2="438.17" stroke="#a0a0a0"/>
<line x1="546.12" y1="474.5" x2="546.12" y2="476.8" stroke="#a0a0a0"/>
<text transform="translate(491.1 440.32) scale(1 1.08)" rotate="0.3" font-size="6.0" fill="#4a4a4a" text-anchor="end">25%</text>
<text transform="translate(546.12 482.5) scale(1 1.08)" rotate="0.3" font-size="6.0" fill="#4a4a4a" text-anchor="middle">25%</text>
<line x1="492.2" y1="407.95" x2="494.5" y2="407.95" stroke="#a0a0a0"/>
<line x1="589.4" y1="474.5" x2="589.4" y2="476.8" stroke="#a0a0a0"/>
<text transform="translate(491.1 410.1) scale(1 1.08)" rotate="0.3" font-size="6.0" fill="#4a4a4a" text-anchor="end">50%</text>
<text transform="translate(589.4 482.5) scale(1 1.08)" rotate="0.3" font-size="6.0" fill="#4a4a4a" text-anchor="middle">50%</text>
<line x1="492.2" y1="377.73" x2="494.5" y2="377.73" stroke="#a0a0a0"/>
<line x1="632.68" y1="474.5" x2="632.68" y2="476.8" stroke="#a0a0a0"/>
<text transform="translate(491.1 379.88) scale(1 1.08)" rotate="0.3" font-size="6.0" fill="#4a4a4a" text-anchor="end">75%</text>
<text transform="translate(632.68 482.5) scale(1 1.08)" rotate="0.3" font-size="6.0" fill="#4a4a4a" text-anchor="middle">75%</text>
<line x1="492.2" y1="347.5" x2="494.5" y2="347.5" stroke="#a0a0a0"/>
<line x1="675.95" y1="474.5" x2="675.95" y2="476.8" stroke="#a0a0a0"/>
<text transform="translate(491.1 349.65) scale(1 1.08)" rotate="0.3" font-size="6.0" fill="#4a4a4a" text-anchor="end">100%</text>
<text transform="translate(675.95 482.5) scale(1 1.08)" rotate="0.3" font-size="6.0" fill="#4a4a4a" text-anchor="middle">100%</text>
<text transform="translate(494.6 335.7) scale(1 1.0)" rotate="0.3" font-size="8.6" fill="#000">Air</text>
<text transform="translate(589.5 490.3) scale(1 1.0)" rotate="0.3" font-size="7.3" fill="#000" text-anchor="middle">Accumulated Proportion of GDP</text>
<text transform="translate(473.1 408) rotate(-90) scale(1 1.126)" rotate="0.3" font-size="7.26" fill="#000" text-anchor="middle">Accumulated Proportion of Modal Share Change</text>
<text transform="translate(511.1 382.23) scale(1 1.0)" rotate="0.3" font-size="10.4" fill="#000">Gini = 0.0301</text>
</svg>
</body></html>
